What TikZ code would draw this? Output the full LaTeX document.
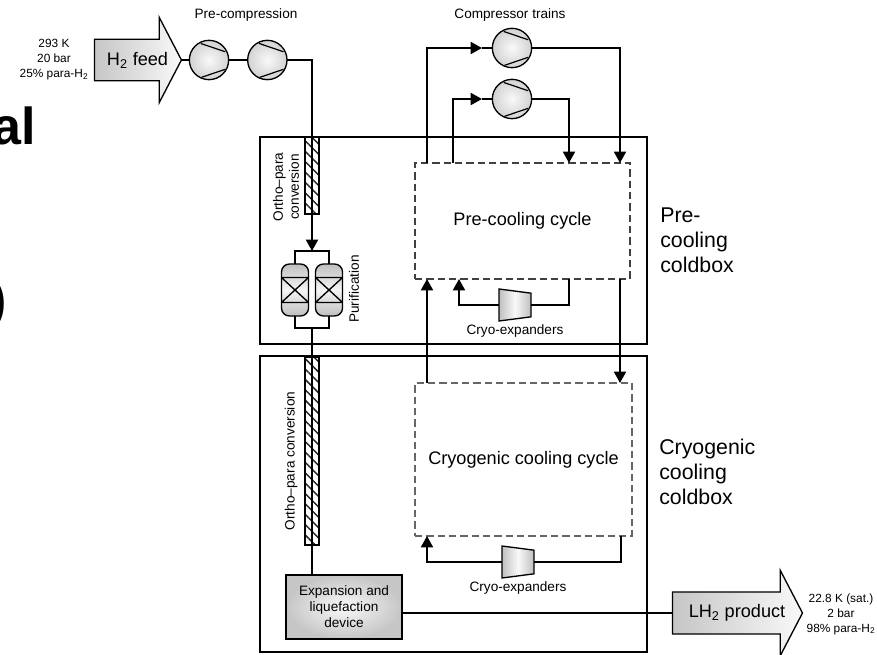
\documentclass[tikz,border=0pt]{standalone}
\usepackage{fontspec}
\setmainfont{Liberation Sans}
\usetikzlibrary{
    shapes.geometric, shapes.arrows,
    arrows.meta, positioning, calc,
    patterns.meta
}
\tikzset{
  pipe/.style={line width=1.4pt},
  arr/.style={pipe, -{Triangle[length=8.5pt,width=9pt]}},
  coldbox/.style={rectangle, draw, line width=1.3pt, outer sep=0pt, inner sep=0pt},
  cycbox/.style={rectangle, draw=black!75, dashed, dash pattern=on 5.5pt off 3pt,
                 line width=0.9pt, outer sep=0pt, inner sep=0pt,
                 font=\fontsize{13.6}{16}\selectfont},
  hatch/.style={rectangle, draw, line width=1.5pt, outer sep=0pt, inner sep=0pt,
                minimum width=9.8pt,
                preaction={fill=white},
                pattern={Lines[angle=-45,distance=5.5pt,line width=1.1pt]},
                pattern color=black!85},
  compr/.style={circle, draw, line width=1pt, inner sep=0pt, outer sep=0pt,
                minimum size=29.5pt, inner color=gray!5, outer color=gray!35,
                path picture={
                  \draw[line width=0.9pt] ($(path picture bounding box.center)+(-6.2pt,12.4pt)$)
                    -- ($(path picture bounding box.center)+(12.1pt,6.2pt)$);
                  \draw[line width=0.9pt] ($(path picture bounding box.center)+(-5.6pt,-13pt)$)
                    -- ($(path picture bounding box.center)+(12.1pt,-7pt)$);
                }},
  expd/.style={trapezium, rotate=-90, trapezium angle=80, draw,
               line width=1pt, inner sep=2pt, outer sep=0pt,
               trapezium stretches=true,
               minimum width=24pt, minimum height=24pt,
               left color=gray!50, right color=gray!50, middle color=gray!5},
  vessel/.style={rectangle, rounded corners=6pt, draw, line width=1pt,
                 inner sep=0pt, outer sep=0pt,
                 minimum width=20.3pt, minimum height=39pt,
                 top color=gray!50, bottom color=gray!50, middle color=gray!8,
                 path picture={
                   \draw[line width=1pt]
                     ($(path picture bounding box.center)+(-11pt,9.4pt)$) -- ++(22pt,0pt)
                     ($(path picture bounding box.center)+(-11pt,-9.4pt)$) -- ++(22pt,0pt)
                     ($(path picture bounding box.center)+(-10.2pt,9.4pt)$) -- ++(20.4pt,-18.8pt)
                     ($(path picture bounding box.center)+(-10.2pt,-9.4pt)$) -- ++(20.4pt,18.8pt);
                 }},
  flowarr/.style={single arrow, draw, line width=1pt, outer sep=0pt,
                  inner xsep=0pt, inner ysep=8.5pt,
                  single arrow head extend=15.75pt, single arrow tip angle=125,
                  minimum width=64pt, align=center,
                  left color=gray!45, right color=gray!5,
                  font=\fontsize{13.6}{16}\selectfont},
  lbl/.style={font=\fontsize{10.2}{12}\selectfont, align=center},
  cond/.style={font=\fontsize{8.9}{11.25}\selectfont, align=center},
  side/.style={font=\fontsize{16}{18.75}\selectfont, align=left, anchor=west, inner sep=0pt},
  slide/.style={font=\fontsize{39}{39}\selectfont\bfseries},
}
\begin{document}
\begin{tikzpicture}[x=0.75pt, y=-0.75pt]

  \useasboundingbox (0,0) rectangle (877,655);

  % slide text behind the figure
  \node[slide, anchor=base east, inner sep=0pt] (slideA) at (36,145) {al};
  \node[slide, anchor=base east, inner sep=0pt] (slideB) at (7,318) {)};

  % coldboxes and cycles
  \node[coldbox, minimum width=290.25pt, minimum height=155.25pt] (prebox) at (453.5,240.5) {};
  \node[coldbox, minimum width=290.25pt, minimum height=222pt] (cryobox) at (453.5,504) {};
  \node[cycbox, minimum width=161.25pt, minimum height=87pt] (precyc) at (522.5,221) {Pre-cooling cycle};
  \node[cycbox, draw=black!60, minimum width=162.75pt, minimum height=114.75pt] (cryocyc) at (523.5,459.5) {Cryogenic cooling cycle};

  \node[side] (prelbl) at (660,240) {Pre-\\cooling\\coldbox};
  \node[side] (cryolbl) at (659,472) {Cryogenic\\cooling\\coldbox};

  % feed side
  \node[flowarr, minimum height=65.25pt] (feed) at (132.5,60) {\hspace{7.5pt}H\textsubscript{2} feed};
  \node[cond, anchor=east] (feedcond) at (93,60) {293 K\\20 bar\\25\% para-H\textsubscript{2}};
  \node[compr] (c1) at (209,60) {};
  \node[compr, right=14.25pt of c1] (c2) {};
  \node[lbl] (prelab) at (246,15) {Pre-compression};

  \node[hatch, minimum height=57.75pt] (hatchA) at (312,176) {};
  \node[lbl, rotate=90] (opA) at (286,187) {Ortho–para\\conversion};

  \coordinate (bartop) at (312,251);
  \coordinate (barbot) at (312,328);
  \node[vessel] (vesA) at (295,290) {};
  \node[vessel] (vesB) at (329,290) {};
  \node[lbl, rotate=90] (purlab) at (354,289) {Purification};

  \node[hatch, minimum height=141pt] (hatchB) at (312,451) {};
  \node[lbl, rotate=90] (opB) at (291,461) {Ortho–para conversion};

  \node[rectangle, draw, line width=1.5pt, outer sep=0pt, inner sep=0pt,
        minimum width=87pt, minimum height=48pt, inner color=gray!5, outer color=gray!45,
        lbl] (dev) at (344,607) {Expansion and\\liquefaction\\device};

  \node[flowarr, minimum height=97.5pt] (prod) at (732,613) {\hspace{7.5pt}LH\textsubscript{2} product};
  \node[cond, anchor=center] (prodcond) at (841,614) {22.8 K (sat.)\\2 bar\\98\% para-H\textsubscript{2}};

  % compressor trains
  \node[compr] (c3) at (512,48) {};
  \node[compr] (c4) at (512,99) {};
  \node[lbl] (trainlab) at (510,15) {Compressor trains};
  \coordinate (tip3) at (482,48);
  \coordinate (tip4) at (482,99);
  \coordinate (outA) at (427,163);
  \coordinate (outB) at (453,163);
  \coordinate (inA) at (569,163);
  \coordinate (inB) at (620,163);

  % expanders
  \node[expd] (expA) at (515,305) {};
  \node[lbl, below=0.5pt of expA.east] (expAlab) {Cryo-expanders};
  \node[expd] (expB) at (518,562) {};
  \node[lbl, below=0.5pt of expB.east] (expBlab) {Cryo-expanders};
  \coordinate (expAout) at (569,279);
  \coordinate (expAin) at (459,279);
  \coordinate (expBout) at (621,536);
  \coordinate (expBin) at (427,536);
  \coordinate (linkUpS) at (427,383);
  \coordinate (linkUpE) at (427,279);
  \coordinate (linkDnS) at (620,279);
  \coordinate (linkDnE) at (620,383);

  % hydrogen stream
  \draw[pipe] (feed.tip) -- (c1.west);
  \draw[pipe] (c1.east) -- (c2.west);
  \draw[pipe] (c2.east) -| (hatchA.north);
  \draw[pipe] (hatchA.north) -- (hatchA.south);
  \draw[arr] (hatchA.south) -- (bartop);
  \draw[pipe] (vesA.north) |- (bartop) -| (vesB.north);
  \draw[pipe] (vesA.south) |- (barbot) -| (vesB.south);
  \draw[pipe] (barbot) -- (hatchB.north);
  \draw[pipe] (hatchB.north) -- (hatchB.south);
  \draw[pipe] (hatchB.south) -- (hatchB.south |- dev.north);
  \draw[pipe] (dev.east |- prod.west) -- (prod.west);

  % pre-cooling loop
  \draw[arr] (outA) |- (tip3);
  \draw[pipe] (tip3) -- (c3.west);
  \draw[arr] (outB) |- (tip4);
  \draw[pipe] (tip4) -- (c4.west);
  \draw[arr] (c3.east) -| (inB);
  \draw[arr] (c4.east) -| (inA);
  \draw[pipe] (expAout) |- (expA.north);
  \draw[arr] (expA.south) -| (expAin);

  % link between the two cycles
  \draw[arr] (linkUpS) -- (linkUpE);
  \draw[arr] (linkDnS) -- (linkDnE);

  % cryogenic loop
  \draw[pipe] (expBout) |- (expB.north);
  \draw[arr] (expB.south) -| (expBin);

\end{tikzpicture}
\end{document}
